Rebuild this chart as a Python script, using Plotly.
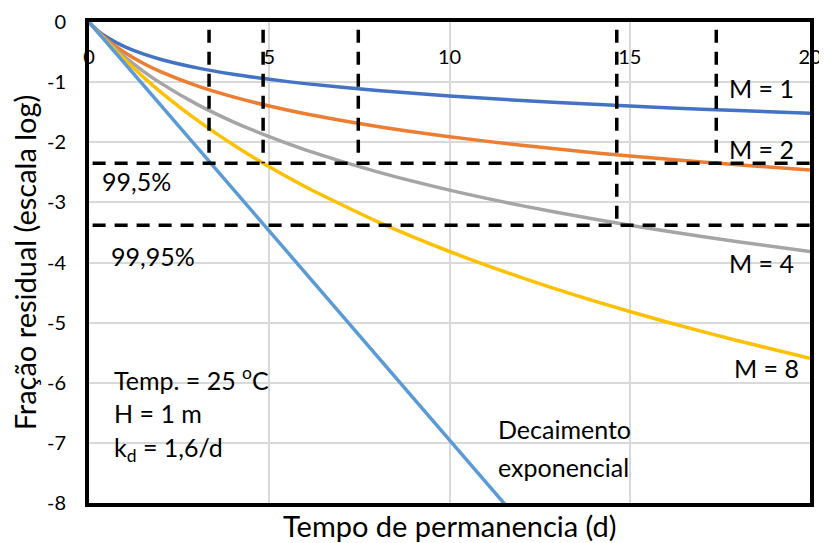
import plotly.graph_objects as go

# ---- data ----
t = [0, 0.25, 0.5, 1, 1.5, 2, 3, 4, 5, 6, 8, 10, 12, 14, 16, 18, 20]
m1 = [0, -0.146, -0.255, -0.415, -0.531, -0.623, -0.763, -0.869, -0.954, -1.025,
      -1.140, -1.230, -1.305, -1.369, -1.425, -1.474, -1.519]
m2 = [0, -0.158, -0.292, -0.511, -0.685, -0.830, -1.063, -1.246, -1.398, -1.527,
      -1.738, -1.908, -2.051, -2.173, -2.280, -2.375, -2.461]
m4 = [0, -0.166, -0.317, -0.585, -0.816, -1.021, -1.370, -1.660, -1.908, -2.126,
      -2.493, -2.796, -3.054, -3.278, -3.477, -3.655, -3.817]
m8 = [0, -0.170, -0.331, -0.633, -0.912, -1.169, -1.633, -2.042, -2.408, -2.739,
      -3.320, -3.817, -4.252, -4.638, -4.986, -5.302, -5.592]
t_exp = [0, 11.55]
y_exp = [0, -8.03]

level_995 = -2.35
level_9995 = -3.38
vlines_995 = [3.33, 4.83, 7.47, 17.4]
vlines_9995 = [14.64]

x_ticks = [0, 5, 10, 15, 20]
y_ticks = [0, -1, -2, -3, -4, -5, -6, -7, -8]
y_ticktext = ["0", "-1", "-2", "-3", "-4", "-5", "-6", "-7", "-8"]

FONT = "Lato"
ANN_SIZE = 25

fig = go.Figure()
series = [
    (t, m1, "#4472C4", "M = 1"),
    (t, m2, "#ED7D31", "M = 2"),
    (t, m4, "#A5A5A5", "M = 4"),
    (t, m8, "#FFC000", "M = 8"),
    (t_exp, y_exp, "#5B9BD5", "Decaimento exponencial"),
]
for xs, ys, col, name in series:
    fig.add_trace(go.Scatter(x=xs, y=ys, mode="lines", name=name,
                             line=dict(color=col, width=3.5, shape="spline", smoothing=0.6)))

dash = "13px,9px"
for lv in (level_995, level_9995):
    fig.add_shape(type="line", xref="x", yref="y", x0=0.1, x1=20, y0=lv, y1=lv,
                  line=dict(color="black", width=3.5, dash=dash), layer="above")
for xv in vlines_995:
    fig.add_shape(type="line", xref="x", yref="y", x0=xv, x1=xv, y0=-0.13, y1=level_995,
                  line=dict(color="black", width=3.5, dash=dash), layer="above")
for xv in vlines_9995:
    fig.add_shape(type="line", xref="x", yref="y", x0=xv, x1=xv, y0=-0.13, y1=level_9995,
                  line=dict(color="black", width=3.5, dash=dash), layer="above")

def ann(x, y, text, xanchor="left"):
    fig.add_annotation(x=x, y=y, xref="x", yref="y", text=text, showarrow=False,
                       xanchor=xanchor, yanchor="middle",
                       font=dict(family=FONT, size=ANN_SIZE, color="black"))

ann(0.3, -2.65, "99,5%")
ann(0.55, -3.9, "99,95%")
ann(17.7, -1.1, "M = 1")
ann(17.7, -2.12, "M = 2")
ann(17.7, -4.0, "M = 4")
ann(19.75, -5.75, "M = 8", xanchor="right")
ann(0.65, -5.93, "Temp. = 25 <sup>o</sup>C")
ann(0.65, -6.5, "H = 1 m")
ann(0.65, -7.1, "k<sub>d</sub> = 1,6/d")
ann(11.3, -6.77, "Decaimento")
ann(11.3, -7.4, "exponencial")

fig.add_annotation(x=0.5, y=-0.046, xref="paper", yref="paper",
                   text="Tempo de permanencia (d)", showarrow=False,
                   xanchor="center", yanchor="middle",
                   font=dict(family=FONT, size=29, color="black"))
fig.add_annotation(x=-0.089, y=0.5, xref="paper", yref="paper",
                   text="Fração residual (escala log)", showarrow=False,
                   textangle=-90, xanchor="center", yanchor="middle",
                   font=dict(family=FONT, size=29, color="black"))

# the page body has an 8px margin, so the figure is sized to fit the window
fig.update_layout(
    width=819, height=535,
    margin=dict(l=81, r=17, t=14, b=40, autoexpand=False),
    paper_bgcolor="white", plot_bgcolor="white",
    showlegend=False,
    font=dict(family=FONT, color="black"),
    xaxis=dict(range=[0, 20], side="top", tickvals=x_ticks,
               ticklabelposition="inside", ticklabelstandoff=29,
               ticklabeloverflow="allow", automargin=False,
               tickfont=dict(family=FONT, size=20, color="black"),
               showgrid=True, gridcolor="#D9D9D9", gridwidth=1.5,
               showline=True, linecolor="black", linewidth=4, mirror=True,
               zeroline=False, ticks=""),
    yaxis=dict(range=[-8, 0], tickvals=y_ticks, ticktext=y_ticktext,
               automargin=False, ticklabelstandoff=15,
               tickfont=dict(family=FONT, size=20, color="black"),
               showgrid=True, gridcolor="#D9D9D9", gridwidth=1.5,
               showline=True, linecolor="black", linewidth=4, mirror=True,
               zeroline=False, ticks=""),
)

fig.write_html("out.html")
